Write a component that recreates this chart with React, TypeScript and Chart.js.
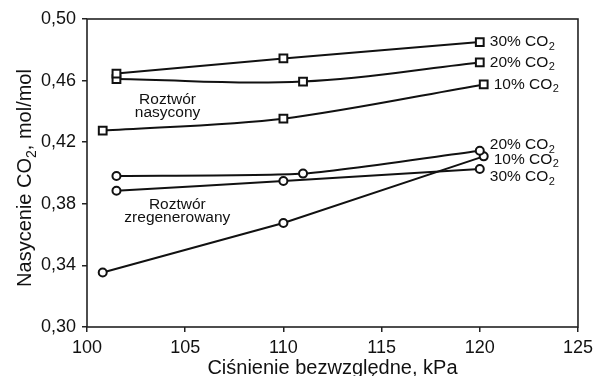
import React, { useEffect, useRef } from "react";
import { Chart, registerables } from "chart.js";

Chart.register(...registerables);

// Saturated solution (squares)
const satPressure30 = [101.5, 110, 120];
const sat30 = [0.4646, 0.4744, 0.485];
const satPressure20 = [101.5, 111, 120];
const sat20 = [0.461, 0.4594, 0.4718];
const satPressure10 = [100.8, 110, 120.2];
const sat10 = [0.4275, 0.4353, 0.4575];

// Regenerated solution (circles)
const regPressure20 = [101.5, 111, 120];
const reg20 = [0.398, 0.3996, 0.4145];
const regPressure30 = [101.5, 110, 120];
const reg30 = [0.3885, 0.3948, 0.4026];
const regPressure10 = [100.8, 110, 120.2];
const reg10 = [0.3354, 0.3675, 0.4108];

const seriesLabels = ["30%", "20%", "10%", "20%", "10%", "30%"];
const xTicks = [100, 105, 110, 115, 120, 125];
const yTicks = [0.3, 0.34, 0.38, 0.42, 0.46, 0.5];

const FONT = "'Liberation Sans', Arial, sans-serif";

function pts(xs: number[], ys: number[]) {
  return xs.map((x, i) => ({ x, y: ys[i] }));
}

export default function App() {
  const ref = useRef<HTMLCanvasElement | null>(null);

  useEffect(() => {
    if (!ref.current) return;
    const base = {
      borderColor: "#111",
      borderWidth: 2,
      pointBackgroundColor: "#fff",
      pointBorderColor: "#111",
      pointBorderWidth: 2,
      fill: false,
    };
    const sq = { ...base, pointStyle: "rect", pointRadius: 5.5 };
    const ci = { ...base, pointStyle: "circle", pointRadius: 4 };
    const labelDy = [0, 0, 0, -6, 3, 8];

    const overlay = {
      id: "overlay",
      afterDraw(chart: any) {
        const { ctx, chartArea, scales } = chart;
        ctx.save();
        ctx.strokeStyle = "#222";
        ctx.lineWidth = 1.6;
        ctx.strokeRect(chartArea.left, chartArea.top, chartArea.right - chartArea.left, chartArea.bottom - chartArea.top);
        ctx.fillStyle = "#111";
        ctx.textBaseline = "middle";
        // series labels at right
        chart.data.datasets.forEach((ds: any, i: number) => {
          const last = ds.data[ds.data.length - 1];
          const x = scales.x.getPixelForValue(last.x) + 10;
          const y = scales.y.getPixelForValue(last.y) + labelDy[i];
          ctx.font = `15.5px ${FONT}`;
          ctx.textAlign = "left";
          const t = seriesLabels[i] + " CO";
          ctx.fillText(t, x, y);
          const w = ctx.measureText(t).width;
          ctx.font = `11px ${FONT}`;
          ctx.fillText("2", x + w + 0.5, y + 5);
        });
        // group annotations
        ctx.font = `15.5px ${FONT}`;
        ctx.textAlign = "center";
        const ax = scales.x.getPixelForValue(104.1);
        ctx.fillText("Roztwór", ax, scales.y.getPixelForValue(0.4475));
        ctx.fillText("nasycony", ax, scales.y.getPixelForValue(0.439));
        const bx = scales.x.getPixelForValue(104.6);
        ctx.fillText("Roztwór", bx, scales.y.getPixelForValue(0.3795));
        ctx.fillText("zregenerowany", bx, scales.y.getPixelForValue(0.371));
        // y axis title
        const cy = (chartArea.top + chartArea.bottom) / 2 + 5;
        ctx.translate(25, cy);
        ctx.rotate(-Math.PI / 2);
        const p1 = "Nasycenie CO";
        const p2 = ", mol/mol";
        ctx.font = `20px ${FONT}`;
        const w1 = ctx.measureText(p1).width;
        const w2 = ctx.measureText(p2).width;
        ctx.font = `14px ${FONT}`;
        const ws = ctx.measureText("2").width;
        const total = w1 + ws + w2;
        const sx = -total / 2;
        ctx.textAlign = "left";
        ctx.font = `20px ${FONT}`;
        ctx.fillText(p1, sx, 0);
        ctx.font = `14px ${FONT}`;
        ctx.fillText("2", sx + w1, 7);
        ctx.font = `20px ${FONT}`;
        ctx.fillText(p2, sx + w1 + ws, 0);
        ctx.restore();
      },
    };

    const chart = new Chart(ref.current, {
      type: "line",
      data: {
        datasets: [
          { ...sq, data: pts(satPressure30, sat30), tension: 0.3 },
          { ...sq, data: pts(satPressure20, sat20), tension: 0.4 },
          { ...sq, data: pts(satPressure10, sat10), tension: 0.3 },
          { ...ci, data: pts(regPressure20, reg20), tension: 0.2 },
          { ...ci, data: pts(regPressure10, reg10), tension: 0 },
          { ...ci, data: pts(regPressure30, reg30), tension: 0.2 },
        ] as any,
      },
      options: {
        animation: false,
        responsive: false,
        maintainAspectRatio: false,
        layout: { padding: { top: 19, right: 19, left: 0, bottom: 0 } },
        plugins: { legend: { display: false }, tooltip: { enabled: false } },
        scales: {
          x: {
            type: "linear",
            min: 100,
            max: 125,
            afterBuildTicks: (s: any) => {
              s.ticks = xTicks.map((v) => ({ value: v }));
            },
            afterFit: (s: any) => {
              s.height = 49;
            },
            grid: { drawOnChartArea: false, tickLength: 5, color: "#222", lineWidth: 1.5 },
            border: { display: false },
            ticks: { color: "#111", font: { family: FONT, size: 18 }, padding: 5, maxRotation: 0 },
            title: {
              display: true,
              text: "Ciśnienie bezwzględne, kPa",
              color: "#111",
              font: { family: FONT, size: 20 },
              padding: { top: 0, bottom: -4 },
            },
          },
          y: {
            type: "linear",
            min: 0.3,
            max: 0.5,
            afterBuildTicks: (s: any) => {
              s.ticks = yTicks.map((v) => ({ value: v }));
            },
            afterFit: (s: any) => {
              s.width = 87;
            },
            grid: { drawOnChartArea: false, tickLength: 5, color: "#222", lineWidth: 1.5 },
            border: { display: false },
            ticks: {
              color: "#111",
              font: { family: FONT, size: 18 },
              padding: 6,
              callback: (v: any) => Number(v).toFixed(2).replace(".", ","),
            },
          },
        },
      },
      plugins: [overlay],
    });
    return () => chart.destroy();
  }, []);

  return (
    <div style={{ position: "absolute", left: 0, top: 0, width: 598, height: 376, background: "#fff" }}>
      <canvas ref={ref} width={598} height={376} style={{ width: 598, height: 376 }} />
    </div>
  );
}
